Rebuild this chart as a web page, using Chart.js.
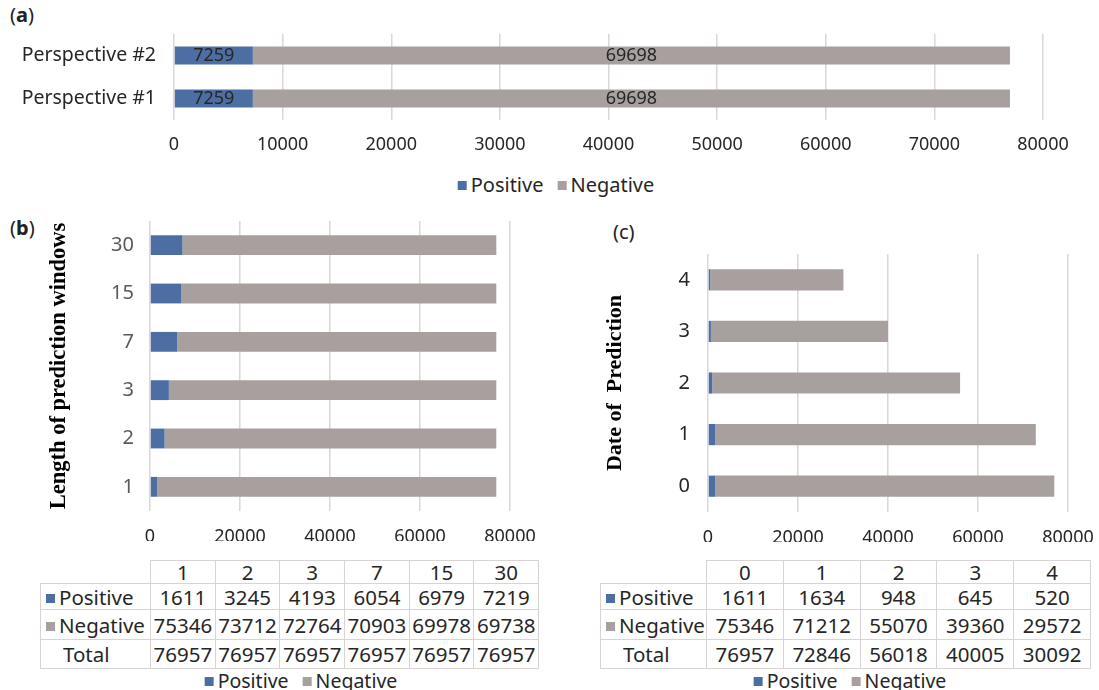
<!DOCTYPE html>
<html><head><meta charset="utf-8">
<script src="https://cdn.jsdelivr.net/npm/chart.js@4.4.1/dist/chart.umd.min.js"></script>
<style>
body{margin:0;width:1099px;height:690px;background:#fff;position:relative;overflow:hidden;font-family:"Noto Sans",sans-serif;color:#262626}
canvas{position:absolute}
.lbl{position:absolute;font-size:20px;color:#222;line-height:24px}
.lbl b{font-weight:bold}
table{position:absolute;border-collapse:collapse;font-size:20.5px;color:#262626;table-layout:fixed}
td{border:1.5px solid #d9d4d3;text-align:center;padding:0;white-space:nowrap;overflow:hidden;line-height:20px}
td.e{border:none;border-bottom:1.5px solid #d9d4d3}
td.h{text-align:left;padding-left:5px}
.k{display:inline-block;width:9px;height:9px;margin-right:4px;vertical-align:2px}
.leg{position:absolute;font-size:19.5px;line-height:22px;white-space:nowrap;transform:translateX(-50%)}
.leg span.item{margin:0 7px}
</style></head><body>
<div class="lbl" style="left:10px;top:3px">(<b>a</b>)</div>
<div class="lbl" style="left:10px;top:216px">(<b>b</b>)</div>
<div class="lbl" style="left:613px;top:220px">(c)</div>
<canvas id="ca" width="1099" height="160" style="left:0;top:0"></canvas>
<canvas id="cb" width="550" height="331" style="left:0;top:210px"></canvas>
<canvas id="cc" width="549" height="332" style="left:550px;top:210px"></canvas>
<table id="tb" style="left:40px;top:560px"></table>
<table id="tc" style="left:600px;top:560px"></table>
<div class="leg" id="la" style="left:556px;top:174px;font-size:20px"></div>
<div class="leg" id="lb" style="left:301px;top:670px"></div>
<div class="leg" id="lc" style="left:850px;top:670px"></div>
<script>
// ---- data ----
const seriesNames = ['Positive', 'Negative'];
const perspCategories = ['Perspective #1', 'Perspective #2'];
const perspPositive = [7259, 7259];
const perspNegative = [69698, 69698];

const lenCategories = ['1', '2', '3', '7', '15', '30'];
const lenPositive = [1611, 3245, 4193, 6054, 6979, 7219];
const lenNegative = [75346, 73712, 72764, 70903, 69978, 69738];

const dateCategories = ['0', '1', '2', '3', '4'];
const datePositive = [1611, 1634, 948, 645, 520];
const dateNegative = [75346, 71212, 55070, 39360, 29572];

const colors = ['#4d6ea3', '#a7a09e'];
const gridColor = '#dcd6d5';
const font = '"Noto Sans", sans-serif';
Chart.defaults.font.family = font;
Chart.defaults.color = '#262626';
const plain = v => String(v);
const fixW = w => s => { s.width = w; s.paddingTop = 0; s.paddingBottom = 0; s.paddingLeft = 0; s.paddingRight = 0; };
const fixH = h => s => { s.height = h; s.paddingTop = 0; s.paddingBottom = 0; s.paddingLeft = 0; s.paddingRight = 0; };

const barLabels = {
  id: 'barLabels',
  afterDatasetsDraw(chart) {
    const ctx = chart.ctx;
    ctx.save();
    ctx.font = '18px ' + font;
    ctx.fillStyle = '#262626';
    ctx.textAlign = 'center';
    ctx.textBaseline = 'middle';
    chart.data.datasets.forEach((ds, i) => {
      chart.getDatasetMeta(i).data.forEach((el, j) => {
        ctx.fillText(String(ds.data[j]), (el.x + el.base) / 2, el.y);
      });
    });
    ctx.restore();
  }
};

function datasets(pos, neg, pct) {
  return [pos, neg].map((d, i) => ({
    label: seriesNames[i], data: d, backgroundColor: colors[i], borderWidth: 0,
    barPercentage: pct, categoryPercentage: 1
  }));
}

// (a)
new Chart(document.getElementById('ca'), {
  type: 'bar',
  data: { labels: perspCategories, datasets: datasets(perspPositive, perspNegative, 0.42) },
  options: {
    responsive: false, animation: false, indexAxis: 'y',
    layout: { padding: { top: 34, right: 56, left: 0, bottom: 0 } },
    plugins: { legend: { display: false }, tooltip: { enabled: false } },
    scales: {
      x: { stacked: true, min: 0, max: 80000, ticks: { stepSize: 10000, font: { size: 18 }, padding: 14, color: '#262626', callback: plain },
        grid: { color: gridColor, drawTicks: false, lineWidth: 1.5 }, border: { display: false },
        afterFit: fixH(40) },
      y: { stacked: true, reverse: true, ticks: { font: { size: 19.5 }, padding: 10, color: '#262626' },
        grid: { display: false }, border: { display: false },
        afterFit: fixW(174) }
    }
  },
  plugins: [barLabels]
});

function panel(id, cats, pos, neg, opt) {
  new Chart(document.getElementById(id), {
    type: 'bar',
    data: { labels: cats, datasets: datasets(pos, neg, 0.41) },
    options: {
      responsive: false, animation: false, indexAxis: 'y',
      layout: { padding: { top: opt.top, right: opt.right, left: 0, bottom: 0 } },
      plugins: { legend: { display: false }, tooltip: { enabled: false } },
      scales: {
        x: { stacked: true, min: 0, max: 80000, ticks: { stepSize: 20000, font: { size: 18 }, padding: 15, color: '#262626', callback: plain },
          grid: { color: gridColor, drawTicks: false, lineWidth: 1.5 }, border: { display: false },
          afterFit: fixH(30) },
        y: { stacked: true, reverse: true, ticks: { font: { size: 20 }, padding: opt.tickPad, color: opt.tickColor },
          grid: { display: false }, border: { display: false },
          title: { display: true, text: opt.title, color: '#000',
            font: { family: '"Liberation Serif", "Times New Roman", serif', size: opt.titleSize, weight: 'bold' },
            padding: { top: opt.titlePad, bottom: 0 } },
          afterFit: fixW(opt.axisW) }
      }
    }
  });
}
panel('cb', lenCategories, lenPositive, lenNegative,
  { top: 11, right: 40, tickPad: 8, tickColor: '#5a5a5a', title: 'Length of prediction windows', titlePad: 46, titleSize: 22.5, axisW: 150 });
panel('cc', dateCategories, datePositive, dateNegative,
  { top: 44, right: 31, tickPad: 10, tickColor: '#262626', title: 'Date of  Prediction', titlePad: 52, titleSize: 22, axisW: 158 });

// tables
function table(id, cats, pos, neg, firstW, colW) {
  const tot = pos.map((v, i) => v + neg[i]);
  const hs = [23, 26, 30, 29];
  let h = '<colgroup><col style="width:' + firstW + 'px">' + cats.map(() => '<col style="width:' + colW + 'px">').join('') + '</colgroup>';
  h += '<tr style="height:' + hs[0] + 'px"><td class="e"></td>' + cats.map(c => '<td>' + c + '</td>').join('') + '</tr>';
  [pos, neg].forEach((d, i) => {
    h += '<tr style="height:' + hs[i + 1] + 'px"><td class="h"><span class="k" style="background:' + colors[i] + '"></span>' + seriesNames[i] + '</td>' +
      d.map(v => '<td>' + v + '</td>').join('') + '</tr>';
  });
  h += '<tr style="height:' + hs[3] + 'px"><td class="h" style="padding-left:22px">Total</td>' + tot.map(v => '<td>' + v + '</td>').join('') + '</tr>';
  const t = document.getElementById(id);
  t.innerHTML = h;
  t.style.width = (firstW + colW * cats.length) + 'px';
}
table('tb', lenCategories, lenPositive, lenNegative, 110, 64.7);
table('tc', dateCategories, datePositive, dateNegative, 106, 76.8);

function legend(id) {
  document.getElementById(id).innerHTML = seriesNames.map((n, i) =>
    '<span class="item"><span class="k" style="background:' + colors[i] + '"></span>' + n + '</span>').join('');
}
legend('la'); legend('lb'); legend('lc');
</script>
</body></html>
